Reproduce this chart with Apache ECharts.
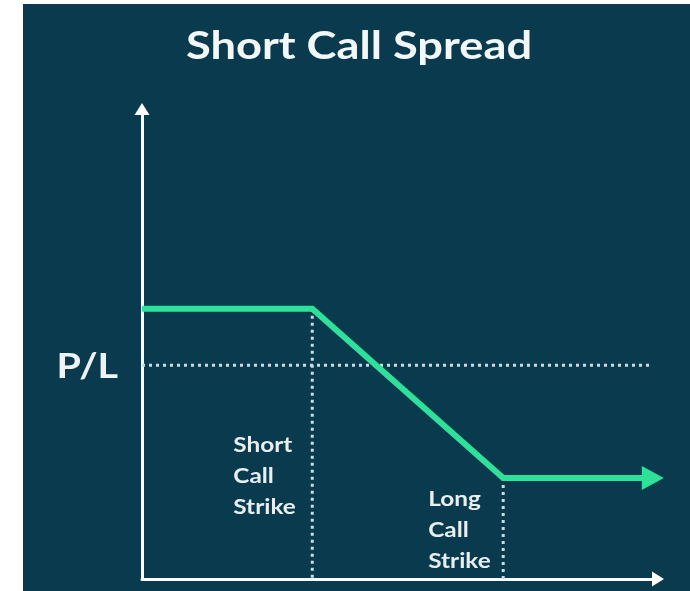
<!DOCTYPE html>
<html>
<head>
<meta charset="utf-8">
<script src="https://cdn.jsdelivr.net/npm/echarts@6/dist/echarts.min.js"></script>
<style>
  html, body { margin: 0; padding: 0; background: #ffffff; }
  #chart { position: absolute; left: 23px; top: 4px; width: 667px; height: 587px; }
</style>
</head>
<body>
<div id="chart"></div>
<script>
// chart data
const chartTitle = "Short Call Spread";
const yAxisLabel = "P/L";
const xRange = [0, 100];
const yRange = [-91, 109];
const strikePrices = [33, 70];
const strikeLabels = ["Short\nCall\nStrike", "Long\nCall\nStrike"];
const payoffPrice = [0, 33, 70, 99];
const payoffPL = [24, 24, -48, -48];
const breakevenPrice = [0, 99];
const breakevenPL = [0, 0];

const BG = "#0a3a4d";
const GREEN = "#2fe09b";
const DOT = "#c9dbe3";
const FONT = "Lato";
const STRETCH = 1.16; // the source lettering is a bit wider than Lato

const chart = echarts.init(document.getElementById("chart"));

// last point carries the arrow head
const payoff = payoffPrice.map((p, i) => {
  const pt = { value: [p, payoffPL[i]] };
  if (i === payoffPrice.length - 1) {
    pt.symbol = "triangle";
    pt.symbolSize = [24, 22];
    pt.symbolRotate = -90;
  }
  return pt;
});
const breakeven = breakevenPrice.map((p, i) => [p, breakevenPL[i]]);
// vertical dotted lines from the payoff corner down to the x axis
const strikeLines = strikePrices.map((s) => {
  const i = payoffPrice.indexOf(s);
  return [[s, payoffPL[i]], [s, yRange[0]]];
});

const dotted = (data, name) => ({
  name,
  type: "line",
  data,
  symbol: "none",
  silent: true,
  z: 2,
  lineStyle: { color: DOT, width: 3, type: [3, 4] }
});

chart.setOption({
  backgroundColor: BG,
  animation: false,
  grid: { left: 119, right: 32, top: 105, bottom: 12 },
  xAxis: {
    type: "value",
    min: xRange[0],
    max: xRange[1],
    axisLine: {
      onZero: false,
      symbol: ["none", "triangle"],
      symbolSize: [15, 12],
      lineStyle: { color: "#ffffff", width: 3 }
    },
    axisTick: { show: false },
    axisLabel: { show: false },
    splitLine: { show: false }
  },
  yAxis: {
    type: "value",
    min: yRange[0],
    max: yRange[1],
    axisLine: {
      show: true,
      onZero: false,
      symbol: ["none", "triangle"],
      symbolSize: [15, 12],
      lineStyle: { color: "#ffffff", width: 3 }
    },
    axisTick: { show: false },
    axisLabel: { show: false },
    splitLine: { show: false }
  },
  series: [
    dotted(breakeven, "breakeven"),
    dotted(strikeLines[0], "short strike"),
    dotted(strikeLines[1], "long strike"),
    {
      name: "payoff",
      type: "line",
      data: payoff,
      symbol: "none",
      showSymbol: true,
      silent: true,
      z: 5,
      itemStyle: { color: GREEN, borderWidth: 0 },
      lineStyle: { color: GREEN, width: 6, join: "miter" }
    }
  ]
});

// text placed from the axis scale
const px = (pt) => chart.convertToPixel({ gridIndex: 0 }, pt);
const zero = px([xRange[0], 0]);
const shortPx = px([strikePrices[0], payoffPL[1]]);
const longPx = px([strikePrices[1], payoffPL[2]]);
const text = (str, x, y, size, align, vAlign, fill, lineHeight) => ({
  type: "text",
  silent: true,
  x, y,
  scaleX: STRETCH,
  style: {
    text: str,
    x: 0, y: 0,
    fill,
    font: "bold " + size + "px " + FONT,
    lineHeight: lineHeight || size,
    align,
    verticalAlign: vAlign
  }
});

chart.setOption({
  graphic: [
    text(chartTitle, 336, 23, 39, "center", "top", "#f2f7f7"),
    text(yAxisLabel, zero[0] - 24, zero[1] + 2, 34, "right", "middle", "#eef4f5"),
    text(strikeLabels[0], shortPx[0] - 79, zero[1] + 65, 21, "left", "top", "#e8eff1", 31),
    text(strikeLabels[1], longPx[0] - 75, longPx[1] + 6, 21, "left", "top", "#e8eff1", 31)
  ]
});

window.addEventListener("resize", () => chart.resize());
</script>
</body>
</html>
